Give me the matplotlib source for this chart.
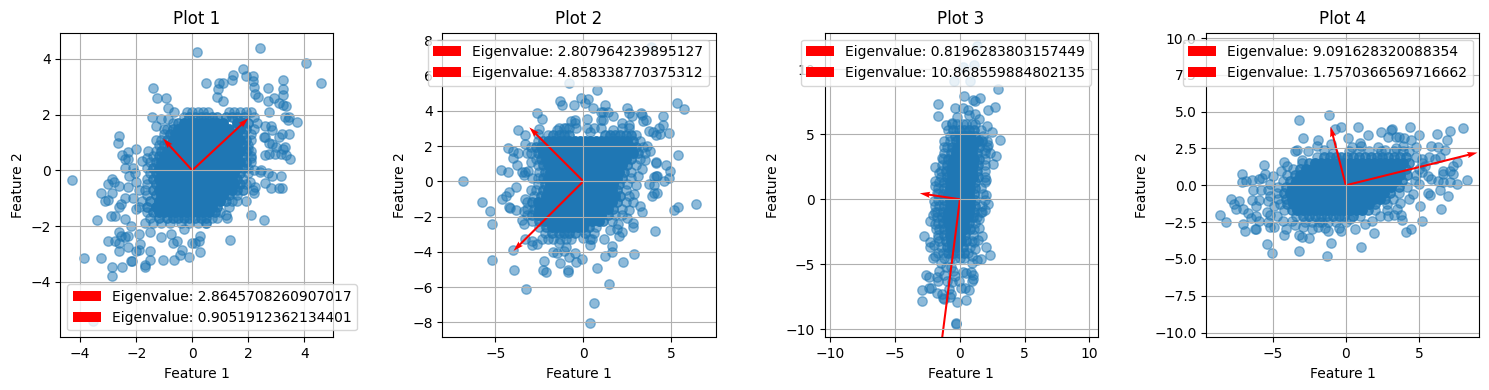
import matplotlib
matplotlib.use('Agg')
import matplotlib.pyplot as plt

# values: loose points one by one, dense middle row by row
rim1 = [(-4.3,-.35),(4.6,3.15),(4.07,3.87),(2.43,4.38),(.18,4.23),(1.8,3.65),(1.45,3.43),(1.9,3.4),(2.15,3.4),(1.43,3.23),(.5,3.15),(.95,3.15),(1.1,3.15),(.93,2.92),(.9,2.65),(1.1,2.5),(-1.39,2.94),(-1.25,2.6),(-.92,2.6),(-.85,2.25),(-.65,2.1),(-1.42,1.93),(-1.1,1.85),(-.85,1.85),(-1.3,1.6),(-1.0,1.5),(-2.6,1.25),(-2.65,.97),(-2.0,.75),(-1.58,.7),(-1.3,1.1),(2.17,3.2),(2.2,3.0),(2.25,2.75),(2.35,2.65),(2.72,2.95),(2.7,2.5),(2.92,2.6),(3.1,2.4),(3.25,2.35),(3.25,3.25),(3.25,2.92),(3.25,2.7),(3.35,2.3),(3.3,1.9),(3.45,1.9),(3.75,1.75),(3.4,1.8),(2.75,2.1),(2.8,1.6),(2.85,1.45),(2.6,1.6),(2.55,1.2),(2.6,1.18),(2.75,1.0),(2.85,.95),(3.1,1.2),(3.2,1.3),(3.45,1.3),(3.0,.85),(3.3,.85),(3.25,.75),(2.6,.55),(2.75,.6),(2.95,.6),(3.15,.6),(3.35,.55),(3.48,.4),(2.2,0),(2.4,-.05),(2.45,0),(2.7,-.1),(2.85,-.2),(3.15,-.2),(2.6,-.45),(2.8,-.65),(3.1,-.62),(3.2,-.65),(2.25,-.6),(2.2,-.8),(2.15,-.7),(2.55,-1.77),(2.1,-1.6),(1.9,-1.1),(1.35,-2.5),(1.2,-1.6),(1.25,-1.7),(.25,-2.55),(0,-2.6),(.1,-2.6),(.28,-2.35),(.28,-2.93),(-.1,-3.1),(-.35,-2.85),(-.45,-3.05),(-.65,-3.2),(-1.05,-3.2),(-1.5,-2.9),(-1.5,-3.2),(-1.7,-3.4),(-1.7,-3.45),(-2.15,-3.27),(-2.2,-3.27),(-1.9,-2.85),(-2.0,-2.9),(-1.85,-2.65),(-3.85,-3.13),(-3.27,-3.13),(-2.85,-3.47),(-2.5,-3.45),(-2.85,-3.8),(-3.0,-2.55),(-2.75,-2.55),(-2.6,-2.6),(-2.6,-2.9),(-2.3,-2.75),(-2.6,-2.2),(-2.55,-2.35),(-2.4,-2.4),(-2.3,-2.35),(-3.4,-1.77),(-2.9,-1.65),(-2.75,-1.65),(-2.4,-1.75),(-3.1,-1.1),(-3.0,-1.05),(-3.27,-.8),(-2.85,-.8),(-3.0,-.48),(-2.85,-.3),(-2.8,-.4),(-2.6,-.55),(-2.55,-1.2),(-2.6,-1.3),(-2.4,-1.0),(-2.3,-.6),(-2.5,.55),(-2.3,.65),(-2.4,.4),(-2.3,.4),(-2.4,.1),(-2.1,.1),(-2.25,-.2),(-2.0,-.4),(-1.8,.35),(-1.6,.45),(-3.55,-5.4),(-2.1,-1.0),(-2.0,-1.4),(-2.2,-2.0),(-1.9,-2.3),(-1.5,-2.2),(-1.1,-2.4),(-.75,-2.3),(-.3,-2.1),(-.7,-2.6),(-.55,-2.55),(.5,-1.9),(.7,-1.7),(-2.05,-.1),(-1.9,-.7),(-1.7,-1.9),(2.0,.75),(2.1,.45),(2.05,-.4),(1.8,-.7),(1.6,-1.1)]
core1_y = [2.1,1.9,1.7,1.5,1.3,1.1,.9,.7,.5,.3,.1,-.1,-.3,-.5,-.7,-.9,-1.1,-1.3,-1.5,-1.7,-1.9]
core1_x = [
 [-.2,0,.2,.4,.55,1.3,1.5,1.7,1.9,2.1],
 [-.3,-.1,.1,.3,.5,.7,.9,1.2,1.4,1.6,1.85,2.2],
 [-.7,-.5,-.3,-.1,.1,.3,.5,.7,.9,1.1,1.6,1.8,2.0,2.3],
 [-.9,-.7,-.5,-.3,-.1,.1,.3,.5,.7,.9,1.1,1.3,1.7,1.9,2.2],
 [-1,-.8,-.6,-.4,-.2,0,.2,.4,.6,.8,1,1.2,1.4,1.6,1.8,2.1],
 [-1.1,-.9,-.7,-.5,-.3,-.1,.1,.3,.5,.7,.9,1.1,1.3,1.5,1.7,1.9,2.1],
 [-1.2,-1,-.8,-.6,-.4,-.2,0,.2,.4,.6,.8,1,1.2,1.4,1.6,1.8,2.0],
 [-1.3,-1.1,-.9,-.7,-.5,-.3,-.1,.1,.3,.5,.7,.9,1.1,1.3,1.5,1.7,1.9,2.1],
 [-1.4,-1.2,-1,-.8,-.6,-.4,-.2,0,.2,.4,.6,.8,1,1.2,1.4,1.6,1.8,2.1],
 [-1.5,-1.3,-1.1,-.9,-.7,-.5,-.3,-.1,.1,.3,.5,.7,.9,1.1,1.3,1.5,1.7,1.9,2.1],
 [-1.6,-1.4,-1.2,-1,-.8,-.6,-.4,-.2,0,.2,.4,.6,.8,1,1.2,1.4,1.6,1.8,2.0],
 [-1.5,-1.3,-1.1,-.9,-.7,-.5,-.3,-.1,.1,.3,.5,.7,.9,1.1,1.3,1.5,1.7,2.0],
 [-1.6,-1.4,-1.2,-1,-.8,-.6,-.4,-.2,0,.2,.4,.6,.8,1,1.2,1.4,1.6,1.8],
 [-1.6,-1.3,-1.1,-.9,-.7,-.5,-.3,-.1,.1,.3,.5,.7,.9,1.1,1.3,1.5,1.7,1.9],
 [-1.7,-1.4,-1.2,-1,-.8,-.6,-.4,-.2,0,.2,.4,.6,.8,1,1.2,1.4,1.6,1.8],
 [-1.6,-1.3,-1.1,-.9,-.7,-.5,-.3,-.1,.1,.3,.5,.7,.9,1.1,1.3,1.6],
 [-1.8,-1.5,-1.2,-1,-.8,-.6,-.4,-.2,0,.2,.4,.6,.8,1,1.2,1.4],
 [-1.9,-1.6,-1.3,-1.1,-.9,-.7,-.5,-.3,-.1,.1,.3,.5,.7,.9,1.3],
 [-1.6,-1.4,-1.2,-1,-.8,-.6,-.4,-.2,0,.2,.4,.6,.8,1.0],
 [-1.5,-1.2,-.9,-.7,-.5,-.3,-.1,.1,.3,.5,.9],
 [-1.4,-1.1,-.8,-.4,-.1,.2,.5],
]
vec1 = [(2.0,1.87),(-1.04,1.14)]
eig1 = ['2.8645708260907017','0.9051912362134401']

rim2 = [(-6.85,0),(-5.75,-1.15),(-5.3,-1.7),(-5.2,-2.4),(-5.2,-4.45),(-4.6,-1.0),(-4.4,-.85),(-4.2,-.6),(-3.8,-.35),(-4.2,-1.45),(-4.15,-1.5),(-3.85,-1.65),(-4.7,.65),(-4.3,.5),(-4.3,1.9),(-4.0,1.7),(-3.7,1.6),(-4.0,1.3),(-3.75,.95),(-3.5,.5),(-3.3,.55),(-3.15,.6),(-3.4,.35),(-3.7,2.9),(-3.3,2.6),(-3.3,2.1),(-3.2,1.6),(-2.65,3.86),(-2.35,3.55),(-2.5,2.97),(-2.6,2.7),(-1.35,4.55),(-1.2,4.35),(-.55,4.35),(-.15,4.75),(.28,4.69),(.1,4.45),(.55,4.15),(.75,5.2),(-.8,5.55),(3.85,7.6),(1.2,4.35),(1.0,3.95),(1.1,3.95),(1.4,3.95),(1.1,3.5),(1.0,3.45),(.2,3.55),(-.45,3.5),(-.5,3.3),(-.7,3.4),(2.5,4.15),(2.6,3.9),(3.25,3.9),(3.3,3.75),(2.75,3.7),(3.4,3.4),(3.55,3.5),(4.5,3.7),(4.5,3.2),(4.3,3.05),(4.85,2.75),(4.35,2.7),(4.1,2.65),(3.7,2.85),(3.95,2.8),(5.3,4.45),(5.7,4.1),(5.35,1.47),(4.15,1.1),(4.1,1.05),(4.7,.9),(4.9,.6),(4.1,.3),(4.2,.3),(4.0,.25),(4.85,.2),(4.55,0),(4.0,-.65),(4.2,-.65),(3.9,-.85),(4.0,-.2),(3.7,-.15),(3.3,-1.75),(3.2,-1.4),(6.4,-1.3),(5.35,-1.45),(5.15,-1.65),(4.05,-2.8),(2.8,-2.35),(2.8,-2.6),(2.5,-2.1),(2.85,-4.15),(2.25,-4.6),(1.2,-4.25),(1.65,-3.65),(1.65,-4.0),(1.15,-3.3),(.75,-4.9),(1.45,-5.85),(.6,-6.9),(.35,-8.05),(-.1,-4.42),(-.4,-4.55),(-.5,-4.05),(-.8,-4.3),(-1.3,-4.65),(-2.25,-4.5),(-2.3,-5.05),(-2.15,-5.15),(-.85,-5.05),(-.85,-5.15),(-3.25,-6.1),(-3.95,-5.05),(-4.0,-3.9),(-3.3,-3.25),(-1.7,-4.0),(-1.5,-4.05),(-1.1,-3.95),(.4,-3.6),(.5,-3.3),(1.5,-2.75),(1.9,-2.7),(2.0,-3.1),(2.2,-2.85),(1.95,-2.4),(-3.5,-2.2),(-3.4,-2.4),(-2.9,-3.4),(-2.9,-3.6),(-2.65,-3.55),(-2.35,-3.3),(3.6,2.0),(3.8,1.7),(3.5,1.2),(3.3,.7),(3.1,.3),(3.0,-.2),(2.9,-.7),(2.8,-1.2),(2.6,-1.6),(-3.0,1.1),(-2.9,.2),(-3.0,-.5),(-3.3,-1.0),(-3.4,-1.7),(-1.5,2.9),(-1.0,3.0),(.2,3.0),(.35,2.8),(1.7,2.9),(2.2,3.3),(2.6,3.2),(1.7,3.7),(-2.0,-3.3),(-1.4,-3.5),(-1.0,-3.7),(0,-3.2),(2.2,-1.9)]
core2_y = [3.0,2.65,2.3,1.95,1.6,1.25,.9,.55,.2,-.15,-.5,-.85,-1.2,-1.55,-1.9,-2.25,-2.6,-2.95,-3.3]
core2_x = [
 [-1.4,-1.1,-.8,-.4,.6,1.0,2.2,2.6],
 [-2.0,-1.7,-1.4,-1.1,-.8,1.2,1.5,1.8,2.1,2.4,2.7,3.0],
 [-2.6,-2.3,-2,-1.7,-1.4,-1.1,-.8,-.5,-.2,.1,.4,.7,1,1.3,1.6,1.9,2.2,2.5,2.8,3.2],
 [-3.0,-2.7,-2.4,-2.1,-1.8,-1.5,-1.2,-.9,-.6,-.3,0,.3,.6,.9,1.2,1.5,1.8,2.1,2.4,2.7,3,3.4],
 [-3.0,-2.6,-2.3,-2,-1.7,-1.4,-1.1,-.8,-.5,-.2,.1,.4,.7,1,1.3,1.6,1.9,2.2,2.5,2.8,3.1,3.5],
 [-2.7,-2.4,-2.1,-1.8,-1.5,-1.2,-.9,-.6,-.3,0,.3,.6,.9,1.2,1.5,1.8,2.1,2.4,2.7,3.2],
 [-2.6,-2.3,-2,-1.7,-1.4,-1.1,-.8,-.5,-.2,.1,.4,.7,1,1.3,1.6,1.9,2.2,2.5,3.0],
 [-2.5,-2.2,-1.9,-1.6,-1.3,-1,-.7,-.4,-.1,.2,.5,.8,1.1,1.4,1.7,2,2.3,2.7],
 [-2.6,-2.3,-2,-1.7,-1.4,-1.1,-.8,-.5,-.2,.1,.4,.7,1,1.3,1.6,1.9,2.2,2.7],
 [-2.6,-2.2,-1.9,-1.6,-1.3,-1,-.7,-.4,-.1,.2,.5,.8,1.1,1.4,1.7,2,2.5],
 [-2.7,-2.3,-2,-1.7,-1.4,-1.1,-.8,-.5,-.2,.1,.4,.7,1,1.3,1.6,1.9,2.4],
 [-2.8,-2.4,-2.1,-1.8,-1.5,-1.2,-.9,-.6,-.3,0,.3,.6,.9,1.2,1.5,1.8,2.1,2.6],
 [-3.2,-2.9,-2.6,-2.3,-2,-1.7,-1.4,-1.1,-.8,-.5,-.2,.1,.4,.7,1,1.3,1.6,1.9,2.4],
 [-3.2,-2.8,-2.5,-2.2,-1.9,-1.6,-1.3,-1,-.7,-.4,-.1,.2,.5,.8,1.1,1.4,1.7,2.2],
 [-3.2,-2.9,-2.6,-2.3,-2,-1.7,-1.4,-1.1,-.8,-.5,-.2,.1,.4,.7,1,1.4,1.8],
 [-2.9,-2.5,-2.2,-1.9,-1.6,-1.3,-1,-.7,-.4,-.1,.2,.5,.9,1.1,1.6],
 [-2.5,-2.1,-1.8,-1.5,-1.2,-.9,-.6,-.3,0,.3,.7],
 [-2.2,-1.8,-1.4,-1.1,-.8,-.5,.1,.6],
 [-1.7,-1.3,-1.0,-.7,.4],
]
vec2 = [(-3.07,3.06),(-3.97,-3.95)]
eig2 = ['2.807964239895127','4.858338770375312']

rim3 = [(1.3,11.8),(.25,10.2),(1.1,10.35),(-.45,9.1),(.75,9.1),(2.95,8.45),(.3,7.95),(-1.7,7.3),(-1.7,6.4),(1.55,7.8),(1.0,7.65),(1.2,7.55),(2.7,7.1),(2.2,6.9),(-.4,7.0),(.25,7.0),(.6,6.9),(1.2,6.6),(1.5,6.2),(.7,6.5),(-.2,6.3),(-1.05,5.75),(-.6,5.9),(2.1,5.65),(2.45,5.15),(3.1,4.6),(-1.25,4.5),(-1.2,4.0),(2.75,3.35),(2.55,2.7),(-1.95,2.5),(-1.95,1.4),(-1.9,1.0),(2.0,1.5),(2.0,.3),(2.2,-.4),(-2.0,-.15),(-2.05,-1.2),(-1.9,-1.0),(-2.3,-1.7),(-1.85,-2.3),(1.5,-1.5),(1.5,-2.2),(-2.75,-2.85),(-2.35,-3.3),(-2.3,-3.7),(-2.0,-3.5),(1.7,-2.85),(1.4,-3.1),(2.0,-3.7),(2.3,-4.25),(1.2,-3.8),(-2.1,-4.5),(-1.95,-4.4),(1.3,-4.7),(1.6,-4.6),(.9,-4.4),(-2.6,-5.8),(-2.4,-6.0),(-1.6,-5.5),(-1.8,-6.0),(-1.2,-5.8),(-1.7,-6.3),(-2.9,-7.0),(-2.4,-6.8),(-2.2,-6.8),(-1.75,-7.2),(-1.4,-7.3),(-1.3,-7.6),(-1.25,-7.7),(-.8,-7.5),(-.7,-7.3),(-.85,-6.9),(-2.95,-7.8),(-.25,-7.9),(.45,-7.75),(.7,-6.95),(.4,-6.85),(.05,-6.8),(-.1,-6.3),(1.0,-6.1),(1.0,-5.85),(.85,-5.6),(.5,-5.7),(.25,-5.6),(.9,-6.3),(-.3,-9.55),(-.3,-9.6),(-.35,-5.9),(-.5,-5.5),(-1.1,-5.2),(-1.5,-4.9),(-.7,-5.2),(-1.0,-6.3),(-.6,-6.4),(1.9,3.8),(2.2,4.2),(2.3,3.6),(-1.4,3.2),(-1.6,2.0),(-1.8,.5),(-1.9,-.5),(-1.9,-1.9),(-1.7,-3.0),(-1.7,-4.1),(1.9,-.8),(1.7,-1.0),(1.1,-3.3),(.9,-4.9)]
core3_y = [5.8,5.35,4.9,4.45,4.0,3.55,3.1,2.65,2.2,1.75,1.3,.85,.4,-.05,-.5,-.95,-1.4,-1.85,-2.3,-2.75,-3.2,-3.65,-4.1,-4.55]
core3_x = [
 [-.6,-.2,.2,.5,.9,1.2],
 [-.9,-.5,-.1,.3,.7,1.1,1.6],
 [-.8,-.4,0,.4,.8,1.2,1.8],
 [-.8,-.3,.1,.5,.9,1.4,1.7,2.1],
 [-1,-.6,-.2,.2,.6,1,1.5,2.1],
 [-1.2,-.7,-.3,.1,.5,.9,1.3,1.9],
 [-1.3,-.9,-.5,-.1,.3,.7,1.1,1.5,1.9],
 [-1.4,-1,-.6,-.2,.2,.6,1,1.4,1.9],
 [-1.5,-1.1,-.7,-.3,.1,.5,.9,1.3,1.9],
 [-1.5,-1,-.6,-.2,.2,.6,1,1.4,1.9],
 [-1.6,-1.2,-.8,-.4,0,.4,.8,1.2,1.9],
 [-1.7,-1.2,-.8,-.4,0,.4,.8,1.2,1.6],
 [-1.7,-1.3,-.9,-.5,-.1,.3,.7,1.1,1.8],
 [-1.7,-1.2,-.8,-.4,0,.4,.8,1.2,1.9],
 [-1.6,-1.2,-.8,-.4,0,.4,.8,1.2,1.7],
 [-1.8,-1.3,-.9,-.5,-.1,.3,.7,1.1,1.6],
 [-1.8,-1.4,-1,-.6,-.2,.2,.6,1,1.3],
 [-1.7,-1.3,-.9,-.5,-.1,.3,.7,1.2],
 [-1.6,-1.2,-.8,-.4,0,.4,.8,1.1],
 [-1.7,-1.2,-.8,-.4,0,.4,1.0],
 [-1.6,-1.1,-.7,-.3,.1,.5,.9],
 [-1.5,-1,-.6,-.2,.2,.8],
 [-1.3,-.9,-.5,-.1,.3,.6],
 [-1.2,-.8,-.4,0,.3],
]
vec3 = [(-3.1,.46),(-1.52,-11.8)]
eig3 = ['0.8196283803157449','10.868559884802135']

rim4 = [(-8.6,-2.0),(-8.2,-2.5),(-7.85,-.95),(-7.6,-1.3),(-7.5,-1.6),(-7.3,-1.1),(-7.0,-1.6),(-7.0,-2.6),(-6.9,-3.1),(-6.7,-1.9),(-6.5,-2.2),(-6.2,-2.95),(-6.1,-3.0),(-6.1,-2.1),(-5.9,-2.4),(-6.4,-1.0),(-6.1,-1.4),(-5.9,-1.0),(-6.3,-.35),(-5.8,-.3),(-5.3,-.3),(-7.1,.75),(-7.1,.2),(-6.8,.3),(-6.4,.35),(-5.9,.4),(-5.7,.5),(-5.5,.8),(-5.6,1.35),(-5.0,.6),(-5.2,.1),(-5.2,-.7),(-5.3,-1.1),(-5.4,-1.8),(-5.2,-2.0),(-5.3,-2.5),(-5.2,-2.85),(-4.9,-2.85),(-5.4,-4.0),(-5.05,-4.6),(-4.2,-3.4),(-4.1,-3.0),(-3.2,-4.45),(-3.2,-3.4),(-3.0,-3.5),(-2.5,-3.55),(-2.9,-2.8),(-2.3,-3.0),(-1.9,-2.85),(-1.3,-4.8),(-1.0,-3.9),(-1.25,-3.1),(-1.4,-2.9),(-.35,-3.1),(-.5,-2.9),(.6,-2.95),(1.05,-4.2),(1.3,-2.65),(1.9,-3.25),(1.8,-2.4),(2.35,-2.1),(2.9,-2.1),(3.3,-2.0),(3.75,-2.0),(3.85,-2.35),(4.1,-3.2),(4.45,-3.0),(5.05,-1.4),(5.2,-2.4),(5.6,-.5),(5.75,-.65),(6.4,-.35),(6.5,-1.6),(7.0,-.7),(7.1,.2),(6.6,.25),(6.3,.3),(5.8,.45),(5.6,.6),(6.65,.95),(6.65,.8),(7.3,.75),(7.6,.1),(8.25,.35),(7.3,1.3),(7.6,1.6),(7.1,1.0),(6.4,1.9),(6.1,1.8),(5.7,1.9),(5.2,1.8),(5.8,2.65),(6.3,2.6),(6.8,2.4),(6.25,3.45),(6.9,3.05),(7.1,3.7),(8.0,3.9),(5.0,3.4),(4.4,3.95),(4.45,3.1),(4.0,3.2),(3.6,3.3),(3.4,3.3),(3.1,3.75),(3.15,3.8),(2.9,3.25),(2.4,3.6),(1.5,3.4),(.8,3.95),(-.3,3.95),(-.75,3.8),(-1.15,4.8),(-3.2,4.4),(-2.9,3.2),(.15,3.2),(-1.9,3.05),(-2.0,2.7),(1.0,2.85),(1.05,2.65),(-1.0,2.8),(-3.5,2.3),(-3.3,2.4),(-2.55,2.3),(-4.2,1.6),(-4.0,1.3),(-4.4,1.0),(4.8,2.6),(2.2,2.6),(2.7,2.4),(3.4,2.5),(3.9,2.7),(4.3,2.3),(.4,2.6),(-.9,2.2),(-1.5,2.4),(-3.0,1.7),(5.4,1.3),(5.2,.9),(5.0,.1),(4.6,-.6),(4.3,-.9),(3.7,-1.2),(3.5,-1.6),(2.8,-1.7),(-4.9,-1.4),(-4.7,-2.1),(-4.3,-2.4),(-3.7,-2.4),(-3.5,-2.7),(-1.8,-2.5),(.3,-2.3)]
core4_y = [2.3,1.9,1.5,1.1,.7,.3,-.1,-.5,-.9,-1.3,-1.7,-2.1,-2.5]
core4_x = [
 [.2,.9,1.6,2.4,3.3,3.9],
 [-2,-1.5,-1.1,-.7,-.3,.1,.5,.9,1.3,1.7,2.1,2.5,2.9,3.3,3.7,4.1,4.8],
 [-3,-2.5,-2.1,-1.7,-1.3,-.9,-.5,-.1,.3,.7,1.1,1.5,1.9,2.3,2.7,3.1,3.5,3.9,4.3,5.2],
 [-3.6,-3.1,-2.7,-2.3,-1.9,-1.5,-1.1,-.7,-.3,.1,.5,.9,1.3,1.7,2.1,2.5,2.9,3.3,3.7,4.1,5.0],
 [-4,-3.5,-3.1,-2.7,-2.3,-1.9,-1.5,-1.1,-.7,-.3,.1,.5,.9,1.3,1.7,2.1,2.5,2.9,3.3,3.7,4.2,4.8],
 [-4.3,-3.8,-3.4,-3,-2.6,-2.2,-1.8,-1.4,-1,-.6,-.2,.2,.6,1,1.4,1.8,2.2,2.6,3,3.4,3.8,4.7],
 [-4.6,-4.1,-3.7,-3.3,-2.9,-2.5,-2.1,-1.7,-1.3,-.9,-.5,-.1,.3,.7,1.1,1.5,1.9,2.3,2.7,3.1,3.6,4.2],
 [-4.7,-4.2,-3.8,-3.4,-3,-2.6,-2.2,-1.8,-1.4,-1,-.6,-.2,.2,.6,1,1.4,1.8,2.2,2.6,3,3.6],
 [-4.6,-4.1,-3.7,-3.3,-2.9,-2.5,-2.1,-1.7,-1.3,-.9,-.5,-.1,.3,.7,1.1,1.5,1.9,2.3,2.7,3.2],
 [-4.5,-4,-3.6,-3.2,-2.8,-2.4,-2,-1.6,-1.2,-.8,-.4,0,.4,.8,1.2,1.6,2,2.8],
 [-4.2,-3.7,-3.3,-2.9,-2.5,-2.1,-1.7,-1.3,-.9,-.5,-.1,.3,.7,1.1,1.5,2.0],
 [-3.4,-2.9,-2.5,-2.1,-1.7,-1.3,-.9,-.5,-.1,.5,1.0],
 [-2.8,-2.3,-1.6,-1.2,-.7,0],
]
vec4 = [(8.98,2.22),(-1.04,3.98)]
eig4 = ['9.091628320088354','1.7570366569716662']

rims = [rim1, rim2, rim3, rim4]
core_ys = [core1_y, core2_y, core3_y, core4_y]
core_xs = [core1_x, core2_x, core3_x, core4_x]
vectors = [vec1, vec2, vec3, vec4]
eigenvalues = [eig1, eig2, eig3, eig4]
xlims = [(-4.71,5.04),(-8.01,7.5),(-10.46,10.64),(-9.52,9.12)]
ylims = [(-5.99,4.94),(-8.85,8.43),(-10.62,12.82),(-10.32,10.36)]
lefts = [60.3,442.3,824.5,1206.3]
legend_locs = ['lower left','upper right','upper right','upper right']
tier_alpha = [0.5, 0.75, 1.0]

fig = plt.figure(figsize=(14.89, 3.9), dpi=100)

for i in range(4):
    ax = fig.add_axes([lefts[i]/1489, 52.7/390, 273.2/1489, 304.6/390])
    ax.scatter([p[0] for p in rims[i]], [p[1] for p in rims[i]], s=46, alpha=0.5, color='#1f77b4')
    # middle rows: paler at the outside, solid further in, like the piled up points
    tiers = [([], []), ([], []), ([], [])]
    rows = core_xs[i]
    for r, row in enumerate(rows):
        for j, x in enumerate(row):
            t = min(j, len(row) - 1 - j, r, len(rows) - 1 - r, 2)
            tiers[t][0].append(x)
            tiers[t][1].append(core_ys[i][r])
    for t in range(3):
        ax.scatter(tiers[t][0], tiers[t][1], s=46, alpha=tier_alpha[t], color='#1f77b4')
    for vec, eig in zip(vectors[i], eigenvalues[i]):
        ax.quiver(0, 0, vec[0], vec[1], angles='xy', scale_units='xy', scale=1,
                  color='r', label='Eigenvalue: ' + eig)
    ax.set_xlim(xlims[i])
    ax.set_ylim(ylims[i])
    ax.set_title('Plot ' + str(i + 1))
    ax.set_xlabel('Feature 1')
    ax.set_ylabel('Feature 2')
    ax.grid(True)
    ax.legend(loc=legend_locs[i])

fig.savefig('out.png', dpi=100)
